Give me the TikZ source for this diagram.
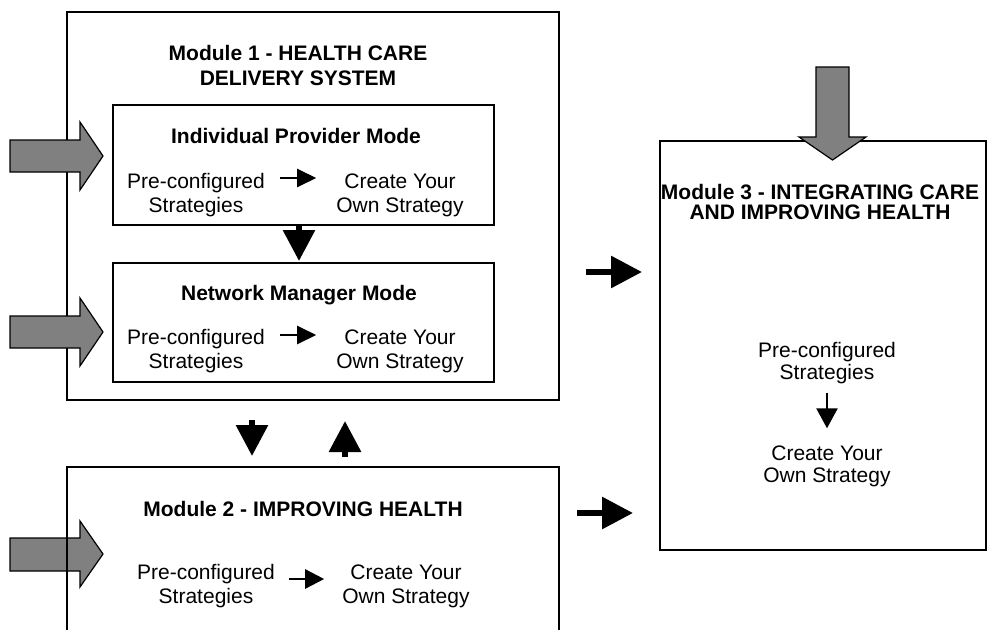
\documentclass[tikz,border=0pt]{standalone}
\usepackage{fontspec}
\setmainfont{Liberation Sans}
\usetikzlibrary{arrows.meta}
\definecolor{arrowgray}{RGB}{128,128,128}

\begin{document}
\begin{tikzpicture}
[x=1pt,y=-1pt,
  boxdecorate/.style={shape=rectangle,draw,line width=1.5pt,inner sep=0pt,outer sep=0pt},%
  titledecorate/.style={align=center,inner sep=0pt,font=\fontsize{21}{25}\selectfont\bfseries},%
  textdecorate/.style={align=center,inner sep=0pt,font=\fontsize{21}{24}\selectfont},%
  bigarrow/.style={line width=6pt,-{Triangle[length=31pt,width=31pt]}},%
  smallarrow/.style={line width=2.5pt,-{Triangle[length=19pt,width=18pt]}},%
  grayarrow/.style={fill=arrowgray,draw,line width=1.2pt,line join=miter}]
\clip (0,0) rectangle (990,629);
%% input arrow under module 2
\draw[grayarrow] (10,538) -- (80,538) -- (80,521) -- (103,554) -- (80,587) -- (80,571) -- (10,571) -- cycle;
%% module boxes
\node (m1) at (313,206) [boxdecorate,minimum width=492pt,minimum height=388pt] {};
\node (ip) at (303.5,165) [boxdecorate,minimum width=381pt,minimum height=120pt] {};
\node (nm) at (303.5,322.5) [boxdecorate,minimum width=381pt,minimum height=119pt] {};
\node (m2) at (313,583.5) [boxdecorate,minimum width=492pt,minimum height=233pt] {};
\node (m3) at (823,345.5) [boxdecorate,minimum width=326pt,minimum height=409pt] {};
%% titles
\node (t1) at (298,65) [titledecorate] {Module 1 - HEALTH CARE\\DELIVERY SYSTEM};
\node (t1a) at (296,135.5) [titledecorate] {Individual Provider Mode};
\node (t1b) at (299,294.7) [titledecorate] {Network Manager Mode};
\node (t2) at (303,508.5) [titledecorate] {Module 2 - IMPROVING HEALTH};
\node (t3) at (820,201.5) [titledecorate,font=\fontsize{21}{20}\selectfont\bfseries]
  {Module 3 - INTEGRATING CARE\\AND IMPROVING HEALTH};
%% strategies
\foreach \nodename/\x/\y in {pa/196/195.5, pb/196/351.5, pc/206/586.5} {
  \node (\nodename) at (\x,\y) [textdecorate] {Pre-configured\\Strategies};
}
\foreach \nodename/\x/\y in {ca/400/195.5, cb/400/351.5, cc/406/586.5} {
  \node (\nodename) at (\x,\y) [textdecorate] {Create Your\\Own Strategy};
}
\node (pd) at (827,363.5) [textdecorate,font=\fontsize{21}{22}\selectfont] {Pre-configured\\Strategies};
\node (cd) at (827,466) [textdecorate,font=\fontsize{21}{22}\selectfont] {Create Your\\Own Strategy};
%% arrows inside the boxes
\draw[smallarrow,shorten <=15pt,shorten >=20pt] (pa.east |- 0,178) -- (ca.west |- 0,178);
\draw[smallarrow,shorten <=15pt,shorten >=20pt] (pb.east |- 0,335) -- (cb.west |- 0,335);
\draw[smallarrow,-{Triangle[length=19pt,width=19pt]},shorten <=14pt,shorten >=18pt]
  (pc.east |- 0,579) -- (cc.west |- 0,579);
\draw[smallarrow,-{Triangle[length=20pt,width=21pt]},shorten <=8.5pt,shorten >=17pt] (pd.south) -- (cd.north);
%% arrows between the boxes
\draw[bigarrow,shorten >=2pt] ([xshift=-4.5pt]ip.south) -- ([xshift=-4.5pt]nm.north);
\draw[bigarrow,shorten <=20pt,shorten >=11pt] ([xshift=-61pt]m1.south) -- ([xshift=-61pt]m2.north);
\draw[bigarrow,shorten <=10pt,shorten >=21pt] ([xshift=32pt]m2.north) -- ([xshift=32pt]m1.south);
\draw[bigarrow,shorten <=27pt,shorten >=18pt] (m1.east |- 0,272) -- (m3.west |- 0,272);
\draw[bigarrow,shorten <=18pt,shorten >=27pt] (m2.east |- 0,513) -- (m3.west |- 0,513);
%% input arrows
\foreach \y in {156,332} {
  \draw[grayarrow] (10,\y-16) -- (80,\y-16) -- (80,\y-34) -- (103,\y) -- (80,\y+34) -- (80,\y+16) -- (10,\y+16) -- cycle;
}
\draw[grayarrow] (816,67) -- (849,67) -- (849,137) -- (866,137) -- (832.5,160) -- (799,137) -- (816,137) -- cycle;
\end{tikzpicture}
\end{document}
